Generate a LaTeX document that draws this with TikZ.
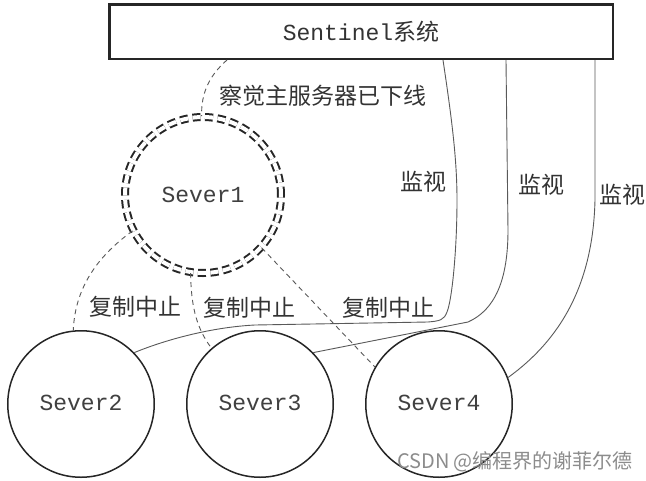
\documentclass[tikz,border=0pt]{standalone}
\usepackage{fontspec}
\newfontfamily\cjk{Noto Sans CJK SC}
\newfontfamily\mono{Liberation Mono}
\begin{document}
\begin{tikzpicture}[x=1pt,y=-1pt,
  box/.style={draw=black!85, line width=2.5pt, minimum width=503.5pt, minimum height=54.5pt, inner sep=0pt, text=black!80},
  srv/.style={circle, draw=black!85, line width=1.5pt, minimum size=146.5pt, inner sep=0pt, font=\mono\fontsize{23}{26}\selectfont, text=black!75},
  master/.style={circle, draw=black!85, line width=2pt, double=white, double distance=4pt, dash pattern=on 8pt off 4.5pt, minimum size=156pt, inner sep=0pt, font=\mono\fontsize{23}{26}\selectfont, text=black!75},
  lbl/.style={font=\cjk\fontsize{23}{26}\selectfont, text=black!80, inner sep=0pt},
  mon/.style={draw=black!65, line width=0.9pt},
  cut/.style={draw=black!65, line width=0.9pt, dash pattern=on 5pt off 4pt},
  wm/.style={font=\cjk\fontsize{20}{22}\selectfont, text=black!45, inner sep=0pt}
]
\fill[white] (0,0) rectangle (646,480);
\useasboundingbox (0,0) rectangle (646,480);

\node[box] (sys) at (361,31.5) {{\mono\fontsize{23}{26}\selectfont Sentinel}{\cjk\fontsize{23}{26}\selectfont 系统}};
\node[master] (s1) at (203,195) {Sever1};
\node[srv] (s2) at (81,404) {\raisebox{3pt}{Sever2}};
\node[srv] (s3) at (260,404) {\raisebox{3pt}{Sever3}};
\node[srv] (s4) at (439,404) {\raisebox{3pt}{Sever4}};

% detection
\draw[cut] ([xshift=119pt]sys.south west) .. controls (210,75) and (201,92) .. (s1.91);
\node[lbl] (det) at (323,96) {察觉主服务器已下线};

% monitoring lines
\draw[mon] ([xshift=335pt]sys.south west) .. controls (452,120) and (457,160) .. (457,200)
  .. controls (457,250) and (452,300) .. (447,312)
  .. controls (444,320) and (440,321) .. (428,322) -- (255,325)
  .. controls (215,327) and (170,338) .. (s2.44);
\draw[mon] ([xshift=398pt]sys.south west) -- (508,230)
  .. controls (508,280) and (495,310) .. (468,322) -- (s3.44);
\draw[mon] ([xshift=487pt]sys.south west) -- (595,200)
  .. controls (593,285) and (560,340) .. (s4.21);
\node[lbl] (m1) at (423,182) {监视};
\node[lbl] (m2) at (541,185) {监视};
\node[lbl] (m3) at (622,195) {监视};

% replication stopped
\draw[cut] (s1.207) .. controls (95,258) and (75,290) .. (s2.96);
\draw[cut] (s1.261) .. controls (191,310) and (198,330) .. (s3.131);
\draw[cut] (s1.318) -- (s4.150);
\node[lbl] (c1) at (135,307) {复制中止};
\node[lbl] (c2) at (249,308) {复制中止};
\node[lbl] (c3) at (388,308) {复制中止};

\node[wm] (wmk) at (515,462) {CSDN @编程界的谢菲尔德};
\end{tikzpicture}
\end{document}
